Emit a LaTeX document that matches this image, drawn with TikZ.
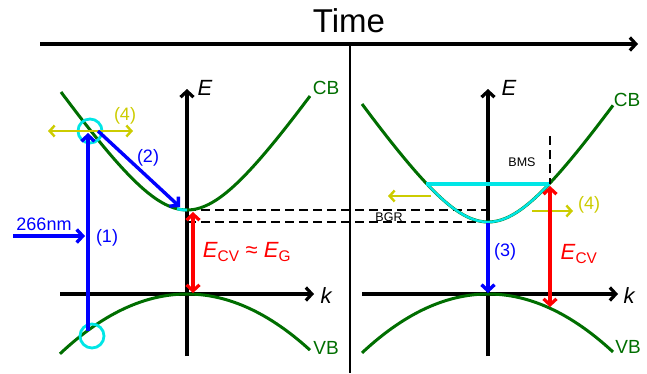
\documentclass[tikz,border=0pt]{standalone}
\usepackage{fontspec}
\setmainfont{Liberation Sans}
\usetikzlibrary{arrows.meta}
\definecolor{bandgreen}{RGB}{0,110,0}
\definecolor{ylw}{RGB}{204,204,0}
\definecolor{cyn}{RGB}{0,230,230}
\definecolor{blu}{RGB}{0,0,255}
\definecolor{rd}{RGB}{255,0,0}
\begin{document}
\begin{tikzpicture}[x=1pt,y=-1pt,
  tip/.tip={Straight Barb[length=6pt,width=13pt]},
  arr/.style={-tip},
  darr/.style={tip-tip},
  axis/.style={line width=3.2pt,arr},
  band/.style={bandgreen,line width=3pt},
  bluearr/.style={blu,line width=3.4pt,arr},
  redarr/.style={rd,line width=3.2pt,darr},
  ylwarr/.style={ylw,line width=2.4pt,-{Straight Barb[length=5pt,width=11pt]}},
  ylwdarr/.style={ylw,line width=2.4pt,{Straight Barb[length=5pt,width=11pt]}-{Straight Barb[length=5pt,width=11pt]}},
  dash line/.style={black,line width=1.3pt,dash pattern=on 9pt off 5pt},
  circ/.style={cyn,line width=2.8pt},
  lbl/.style={inner sep=0pt,font=\fontsize{18pt}{20pt}\selectfont},
  axlbl/.style={inner sep=0pt,font=\fontsize{22pt}{24pt}\selectfont\itshape},
  small/.style={inner sep=0pt,font=\fontsize{12.5pt}{14pt}\selectfont}]
\useasboundingbox (0,0) rectangle (647,373);

% time axis
\node[inner sep=0pt,font=\fontsize{33pt}{36pt}\selectfont] (time) at (349,21) {Time};
\coordinate (t0) at (40,44);
\coordinate (t1) at (638,44);
\draw[axis] (t0) -- (t1);
\coordinate (d0) at (350,44);
\coordinate (d1) at (350,373);
\draw[line width=1.1pt] (d0) -- (d1);

% ---------- left panel ----------
\coordinate (lE0) at (187,356);
\coordinate (lE1) at (187,89);
\coordinate (lk0) at (60,294);
\coordinate (lk1) at (314,294);
\draw[axis] (lE0) -- (lE1);
\draw[axis] (lk0) -- (lk1);
\node[axlbl] (lE) at (205,88) {E};
\node[axlbl] (lk) at (326,296) {k};

% dashed levels
\coordinate (dA0) at (187,210);
\coordinate (dA1) at (488,210);
\coordinate (dB0) at (187,222);
\coordinate (dB1) at (484,222);
\draw[dash line] (dA0) -- (dA1);
\draw[dash line] (dB0) -- (dB1);

% bands
\draw[band] plot[domain=-126:123,samples=80] ({187+\x},{210-89*(sqrt(1+(\x/60)^2)-1)});
\draw[band] plot[domain=-127:123,samples=60] ({187+\x},{294+0.00371*\x*\x});
\draw[cyn,line width=2.8pt] plot[domain=-10:0,samples=8] ({187+\x},{210-89*(sqrt(1+(\x/60)^2)-1)});
\node[lbl,bandgreen,font=\fontsize{19pt}{20pt}\selectfont] (lCB) at (326,88) {CB};
\node[lbl,bandgreen,font=\fontsize{19pt}{20pt}\selectfont] (lVB) at (326,348) {VB};

% circles
\node[circ,draw,circle,minimum size=24pt,inner sep=0pt] (c1) at (90,131) {};
\node[circ,draw,circle,minimum size=24pt,inner sep=0pt] (c2) at (92,336) {};

% yellow (4)
\coordinate (y0) at (48,131);
\coordinate (y1) at (133,131);
\draw[ylwdarr] (y0) -- (y1);
\node[lbl,ylw] (l4a) at (125,116) {(4)};

% blue arrows
\coordinate (b1s) at (88,331);
\coordinate (b1e) at (88,133);
\draw[bluearr] (b1s) -- (b1e);
\node[lbl,blu] (l1) at (107,238) {(1)};
\coordinate (b2s) at (98,131);
\coordinate (b2e) at (180,207);
\draw[bluearr] (b2s) -- (b2e);
\node[lbl,blu] (l2) at (148,158) {(2)};
\coordinate (p0) at (13,236);
\coordinate (p1) at (85,236);
\draw[bluearr] (p0) -- (p1);
\node[lbl,blu] (l266) at (44,224) {266nm};

% red gap arrow
\coordinate (r0) at (193,212);
\coordinate (r1) at (193,293);
\draw[redarr] (r0) -- (r1);
\node[inner sep=0pt,rd,font=\fontsize{22pt}{24pt}\selectfont] (lECV) at (247,252)
  {\textit{E}\textsubscript{CV} ≈ \textit{E}\textsubscript{G}};

% ---------- right panel ----------
\coordinate (rE0) at (488,356);
\coordinate (rE1) at (488,89);
\coordinate (rk0) at (362,294);
\coordinate (rk1) at (618,294);
\draw[axis] (rE0) -- (rE1);
\draw[axis] (rk0) -- (rk1);
\node[axlbl] (rE) at (509,88) {E};
\node[axlbl] (rk) at (629,296) {k};

\draw[band] plot[domain=-126:125,samples=80] ({488+\x},{222-89*(sqrt(1+(\x/60)^2)-1)});
\draw[band] plot[domain=-126:125,samples=60] ({488+\x},{294+0.00371*\x*\x});
\draw[cyn,line width=2.4pt] plot[domain=-61:61,samples=40] ({488+\x},{222-89*(sqrt(1+(\x/60)^2)-1)});
\coordinate (h0) at (426,184);
\coordinate (h1) at (550,184);
\draw[cyn,line width=4pt] (h0) -- (h1);
\node[lbl,bandgreen,font=\fontsize{19pt}{20pt}\selectfont] (rCB) at (627,100) {CB};
\node[lbl,bandgreen,font=\fontsize{19pt}{20pt}\selectfont] (rVB) at (628,347) {VB};

% BMS
\coordinate (v0) at (550,136);
\coordinate (v1) at (550,184);
\draw[dash line] (v0) -- (v1);
\node[small] (bms) at (522,162) {BMS};
\node[small] (bgr) at (389,217) {BGR};

% yellow arrows
\coordinate (ya0) at (431,196);
\coordinate (ya1) at (388,196);
\draw[ylwarr] (ya0) -- (ya1);
\coordinate (yb0) at (532,211);
\coordinate (yb1) at (573,211);
\draw[ylwarr] (yb0) -- (yb1);
\node[lbl,ylw] (l4b) at (589,205) {(4)};

% blue (3)
\coordinate (b3s) at (488,223);
\coordinate (b3e) at (488,293);
\draw[bluearr] (b3s) -- (b3e);
\node[lbl,blu] (l3) at (505,252) {(3)};

% red E_CV
\coordinate (rr0) at (550,186);
\coordinate (rr1) at (550,307);
\draw[redarr] (rr0) -- (rr1);
\node[inner sep=0pt,rd,font=\fontsize{22pt}{24pt}\selectfont] (rECV) at (579,254)
  {\textit{E}\textsubscript{CV}};
\end{tikzpicture}
\end{document}
